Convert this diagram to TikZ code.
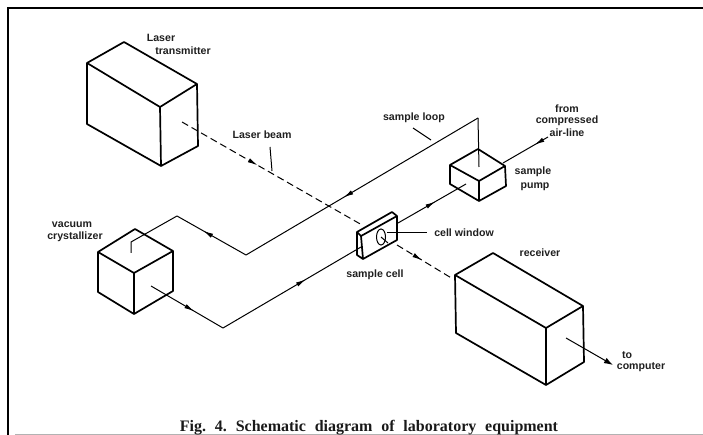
\documentclass[tikz,border=0pt]{standalone}
\usepackage{fontspec}
\setmainfont{Liberation Sans}
\newfontfamily\capfont{Liberation Serif}
\usetikzlibrary{arrows.meta,decorations.markings}
\tikzset{
 x=1pt,y=-1pt,
 box/.style={line width=1.7pt,line join=round,line cap=round},
 pipe/.style={line width=1pt,line join=miter},
 lead/.style={line width=1pt},
 beam/.style={line width=1pt,dash pattern=on 7pt off 4pt},
 lab/.style={inner sep=0pt,font=\fontsize{10.6}{12}\selectfont\bfseries,text=black!88,align=center},
 flow/.style={decoration={markings,mark=at position #1 with {\arrow{Latex[length=10pt,width=4.5pt]}}},postaction={decorate}}
}
\begin{document}
\begin{tikzpicture}
\useasboundingbox (0,0) rectangle (703,435);
% frame
\coordinate (fbl) at (8,435); \coordinate (ftl) at (8,8); \coordinate (ftr) at (703,8);
\coordinate (bbl) at (15,434.6); \coordinate (bbr) at (703,434.6);
\draw[line width=1.8pt] (fbl) -- (ftl) -- (ftr);
\draw[line width=0.7pt,black!30] (bbl) -- (bbr);
% laser transmitter
\coordinate (lt1) at (87,63); \coordinate (lt2) at (124,42); \coordinate (lt3) at (197,84);
\coordinate (lt4) at (160,107); \coordinate (lt5) at (87,124); \coordinate (lt6) at (161,166); \coordinate (lt7) at (198,146);
\draw[box] (lt1) -- (lt2) -- (lt3) -- (lt4) -- cycle (lt1) -- (lt5) -- (lt6) -- (lt7) -- (lt3) (lt4) -- (lt6);
% vacuum crystallizer
\coordinate (vc1) at (98,252); \coordinate (vc2) at (135,229); \coordinate (vc3) at (173,251);
\coordinate (vc4) at (134,273); \coordinate (vc5) at (98,292); \coordinate (vc6) at (134,314); \coordinate (vc7) at (173,291);
\draw[box] (vc1) -- (vc2) -- (vc3) -- (vc4) -- cycle (vc1) -- (vc5) -- (vc6) -- (vc7) -- (vc3) (vc4) -- (vc6);
% sample pump
\coordinate (sp1) at (450,165); \coordinate (sp2) at (478,149); \coordinate (sp3) at (505,166);
\coordinate (sp4) at (479,181); \coordinate (sp5) at (450,184); \coordinate (sp6) at (479,201); \coordinate (sp7) at (506,186);
\draw[box] (sp1) -- (sp2) -- (sp3) -- (sp4) -- cycle (sp1) -- (sp5) -- (sp6) -- (sp7) -- (sp3) (sp4) -- (sp6);
% receiver
\coordinate (re1) at (455,275); \coordinate (re2) at (493,253); \coordinate (re3) at (583,306);
\coordinate (re4) at (546,328); \coordinate (re5) at (456,333); \coordinate (re6) at (546,385); \coordinate (re7) at (584,362);
\draw[box] (re1) -- (re2) -- (re3) -- (re4) -- cycle (re1) -- (re5) -- (re6) -- (re7) -- (re3) (re4) -- (re6);
% sample cell
\coordinate (sc1) at (357,232); \coordinate (sc2) at (392,212); \coordinate (sc3) at (397,216);
\coordinate (sc4) at (361,236); \coordinate (sc5) at (357,255); \coordinate (sc6) at (363,259); \coordinate (sc7) at (397,240);
\draw[box] (sc1) -- (sc2) -- (sc3) -- (sc4) -- cycle (sc1) -- (sc5) -- (sc6) -- (sc7) -- (sc3) (sc4) -- (sc6);
\coordinate (win) at (381,237);
\draw[line width=1pt] (win) ellipse (4.5 and 8);
% laser beam
\coordinate (bs) at (182,122); \coordinate (bm) at (362,225); \coordinate (bw) at (388,243);
\coordinate (bm2) at (397,245); \coordinate (be) at (453,279);
\draw[beam,flow=0.42] (bs) -- (bm);
\draw[lead] (win) -- (bw);
\draw[beam,flow=0.45] (bm2) -- (be);
% sample loop
\coordinate (pi) at (479,167); \coordinate (lp) at (478,118); \coordinate (v4) at (246,255);
\coordinate (v3) at (177,216); \coordinate (v2) at (131,242); \coordinate (v1) at (131,253);
\draw[pipe] (pi) -- (lp);
\draw[pipe,flow=0.58] (lp) -- (v4);
\draw[pipe,flow=0.62] (v4) -- (v3);
\draw[pipe] (v3) -- (v2) -- (v1);
% return line
\coordinate (w1) at (151,286); \coordinate (w2) at (223,328); \coordinate (w3) at (361,247);
\coordinate (w4) at (398,223); \coordinate (w5) at (466,184);
\draw[pipe,flow=0.6] (w1) -- (w2);
\draw[pipe,flow=0.6] (w2) -- (w3);
\draw[pipe,flow=0.55] (w4) -- (w5);
% air line
\coordinate (a1) at (548,137); \coordinate (a2) at (503,163);
\draw[pipe,flow=0.3] (a1) -- (a2);
% to computer
\coordinate (c1) at (566,338); \coordinate (c2) at (613,365);
\draw[pipe,-{Latex[length=9pt,width=6pt]}] (c1) -- (c2);
% labels
\node[lab] (nlaser) at (161,38) {Laser};
\node[lab] (ntrans) at (183,51) {transmitter};
\node[lab] (nbeam) at (262,135) {Laser beam};
\node[lab] (nloop) at (414,118) {sample loop};
\node[lab] (nvac) at (72,225) {vacuum};
\node[lab] (ncry) at (75,237) {crystallizer};
\node[lab] (nfrom) at (567,109) {from};
\node[lab] (ncomp) at (567,121) {compressed};
\node[lab] (nair) at (567,133) {air-line};
\node[lab] (nsamp) at (533,172) {sample};
\node[lab] (npump) at (535,187) {pump};
\node[lab] (ncw) at (464,233) {cell window};
\node[lab] (nsc) at (375,275) {sample cell};
\node[lab] (nrec) at (540,253) {receiver};
\node[lab] (nto) at (627,355) {to};
\node[lab] (ncpu) at (641,367) {computer};
\node[inner sep=0pt,anchor=base,font=\capfont\fontsize{16}{18}\selectfont\bfseries,text=black!90] (ncap) at (369,431.5) {Fig.\hspace{0.55em}4.\hspace{0.55em}Schematic\hspace{0.55em}diagram\hspace{0.55em}of\hspace{0.55em}laboratory\hspace{0.55em}equipment};
% leaders
\coordinate (l1) at (270,147); \coordinate (l2) at (272,171);
\draw[lead] (l1) -- (l2);
\coordinate (l3) at (413,128); \coordinate (l4) at (431,140);
\draw[lead] (l3) -- (l4);
\coordinate (l5) at (387,233); \coordinate (l6) at (427,233);
\draw[lead] (l5) -- (l6);
\end{tikzpicture}
\end{document}
